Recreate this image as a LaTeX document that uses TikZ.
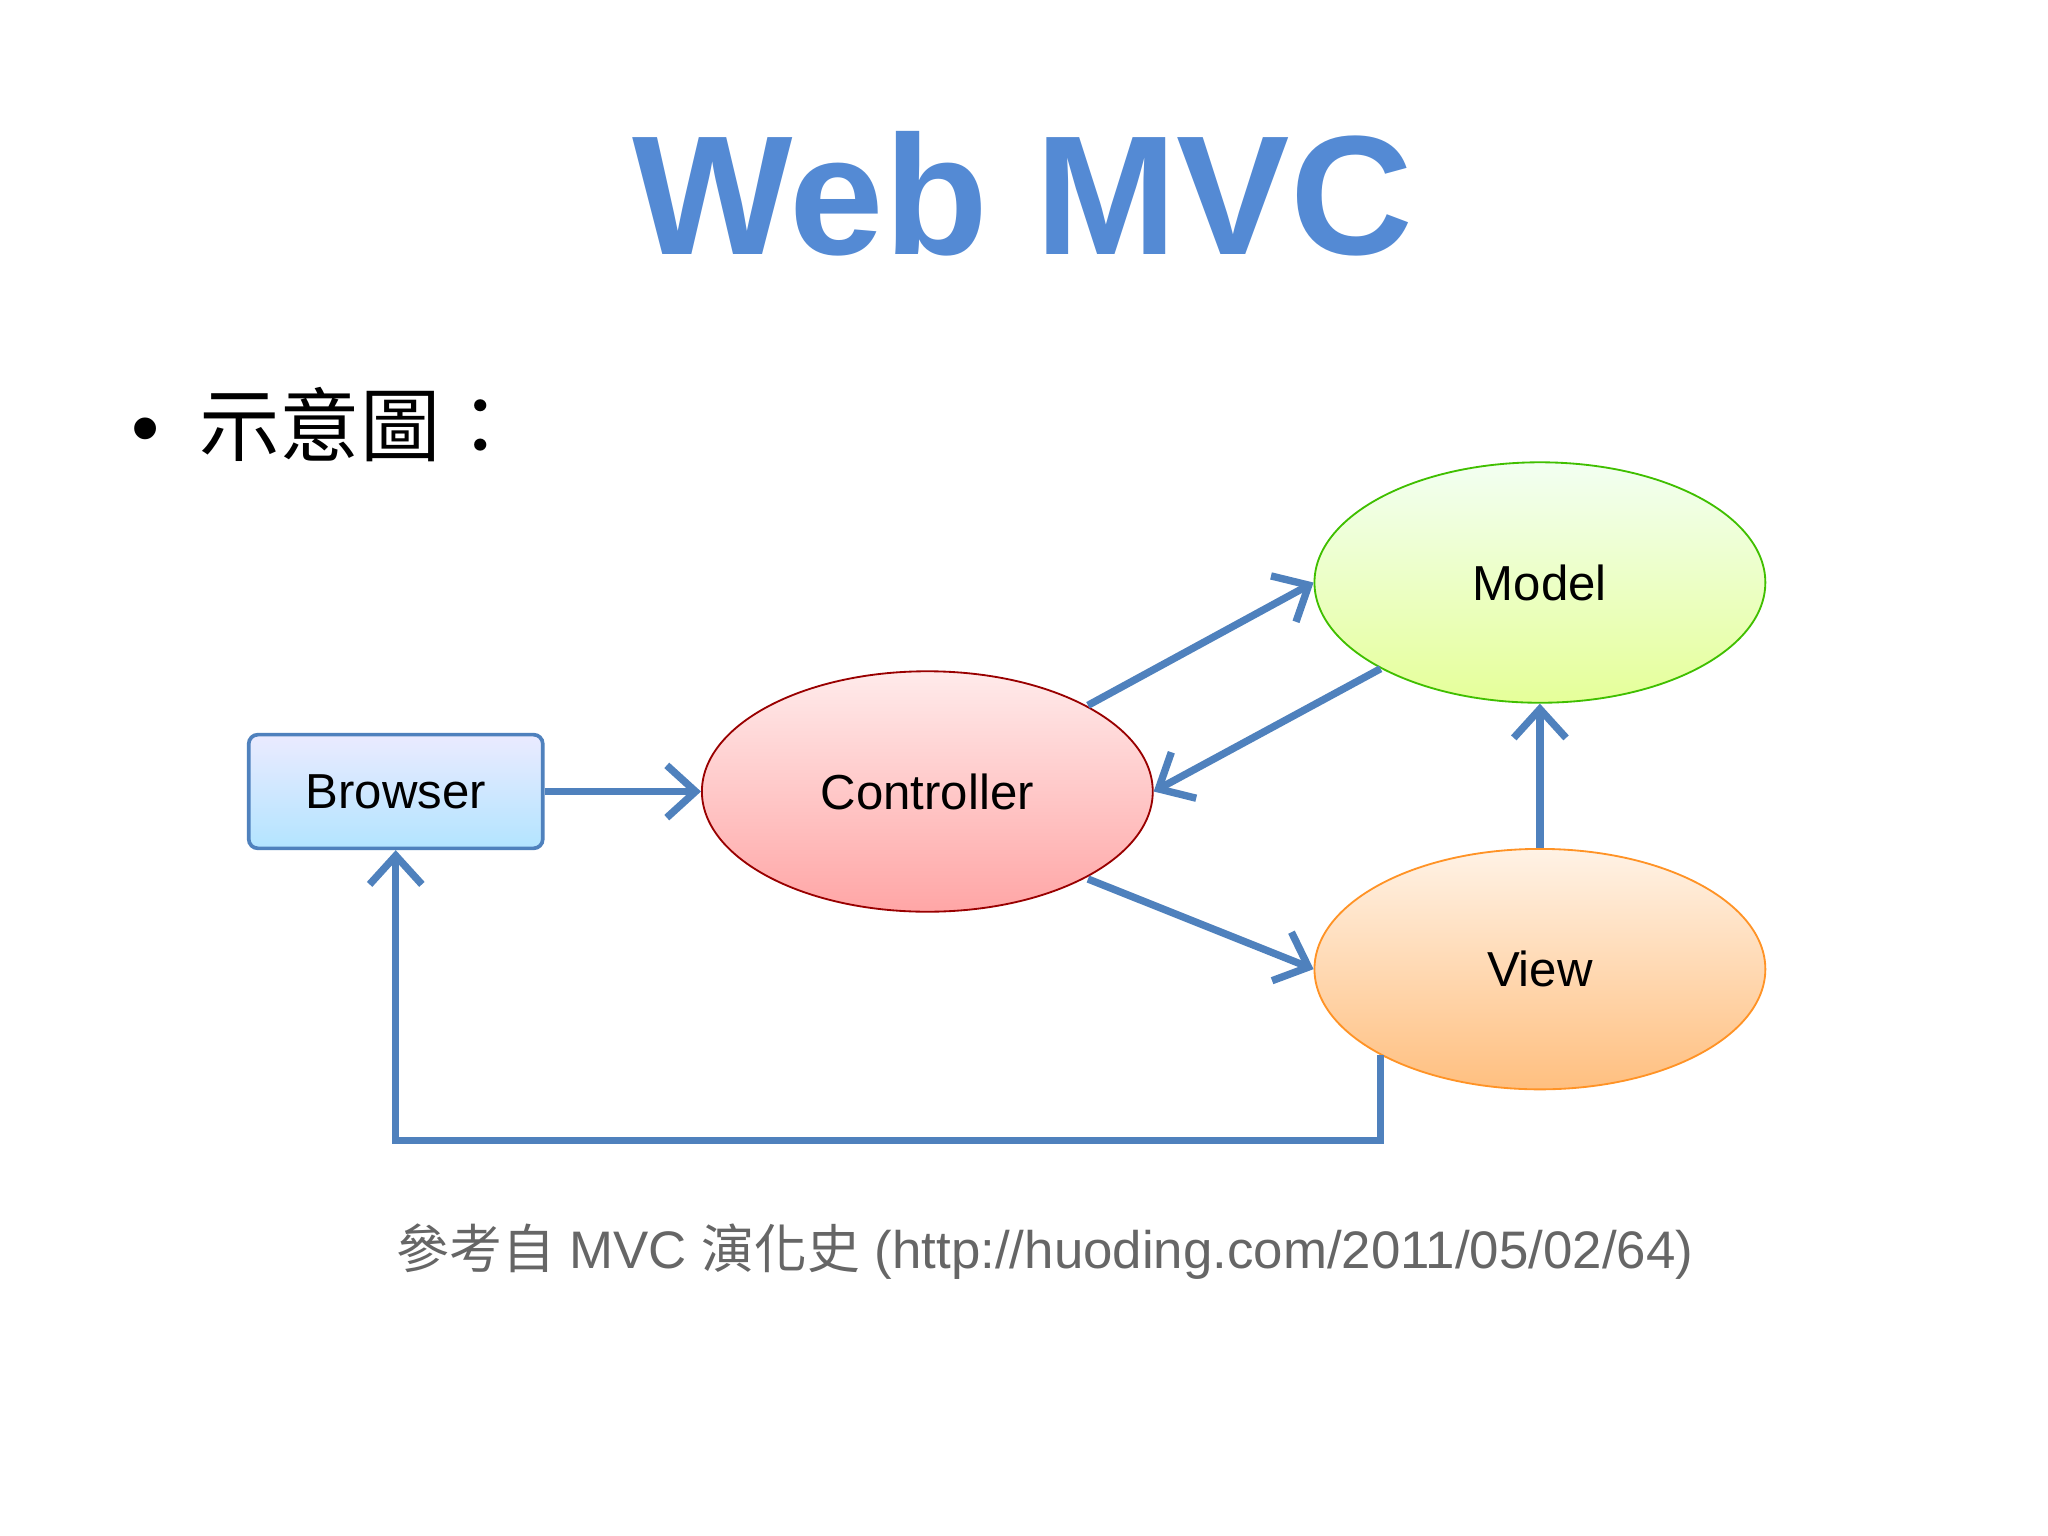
\documentclass[tikz,border=0pt]{standalone}
\usepackage{fontspec}
\setmainfont{Liberation Sans}
\newfontfamily\cjk{Noto Sans CJK TC}
\usetikzlibrary{arrows.meta, positioning, shapes.geometric}
\definecolor{titleblue}{RGB}{84,138,212}
\definecolor{linkblue}{RGB}{79,129,189}
\tikzset
{%
box/.style={draw=linkblue, thick, rounded corners=2pt, minimum width=2.25cm, minimum height=0.87cm, top color=blue!8, bottom color=blue!35!cyan!30, font=\fontsize{10.7}{12}\selectfont},
blob/.style={ellipse, minimum width=3.45cm, minimum height=1.84cm, font=\fontsize{10.7}{12}\selectfont},
link/.style={->, >={Straight Barb[length=2.2mm, width=4mm]}, line width=1.6pt, draw=linkblue}
}
\begin{document}
\begin{tikzpicture}[x=0.01cm, y=-0.01cm]
		\useasboundingbox[fill=white] (0,0) rectangle (1568,1176);
		\node[text=titleblue, font=\fontsize{37}{40}\selectfont\bfseries] (title) at (783,148) {Web MVC};
		\node[anchor=west, font=\fontsize{17.5}{20}\selectfont] (bullet) at (88,325) {\textbullet\hspace{0.5em}{\cjk 示意圖：}};
		
		%Nodes
		\node[box] (browser) at (303,606) {Browser};
		\node[blob, draw=red!60!black, top color=red!8, bottom color=red!35] (ctrl) at (710,606) {Controller};
		\node[blob, draw=green!50!olive, top color=green!5, bottom color=lime!40] (model) at (1179,446) {Model};
		\node[blob, draw=orange!85, top color=orange!10, bottom color=orange!50] (view) at (1179,742) {View};
		\coordinate (c1) at (833,540);
		\coordinate (m1) at (1057,512);
		\coordinate (c2) at (833,673);
		\coordinate (v1) at (1057,808);
		\coordinate (v2) at (1057,873);
		\coordinate (b1) at (303,873);
		
		\node[text=gray!80!black, font=\fontsize{11.5}{13}\selectfont] (ref) at (800,958) {{\cjk 參考自} MVC {\cjk 演化史} (http://huoding.com/2011/05/02/64)};
		
		\draw[link] (browser) -- (ctrl);
		\draw[link] (c1) -- (model.west);
		\draw[link] (m1) -- (ctrl.east);
		\draw[link] (c2) -- (view.west);
		\draw[link] (view.north) -- (model.south);
		\draw[link] (v1) -- (v2) -- (b1) -- (browser.south);
	\end{tikzpicture}
\end{document}
